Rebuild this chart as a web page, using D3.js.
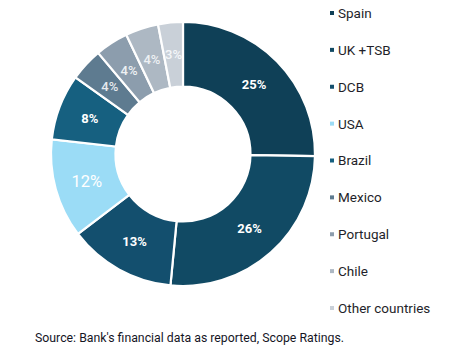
<!DOCTYPE html>
<html><head><meta charset="utf-8">
<script src="https://cdn.jsdelivr.net/npm/d3@7"></script>
<style>body{margin:0;background:#fff}svg{display:block}text{font-family:Roboto,"Noto Sans",sans-serif}</style>
</head><body>
<svg id="c" width="450" height="357"></svg>
<script>
const categories = ["Spain","UK +TSB","DCB","USA","Brazil","Mexico","Portugal","Chile","Other countries"];
const values = [25,26,13,12,8,4,4,4,3];
const colors = ["#0f4057","#114a64","#134f6e","#9bdcf6","#166080","#5e7b90","#8c9dad","#adb8c3","#c9d0d8"];
const labelColors = ["#ffffff","#ffffff","#ffffff","#ffffff","#ffffff","#e6eaee","#eef1f4","#eef1f4","#f4f6f8"];
const source = "Source: Bank's financial data as reported, Scope Ratings.";

const svg = d3.select("#c");
const cx = 183, cy = 154, R = 132, r = 67.5;
const pie = d3.pie().sort(null).value(d => d)(values);
const arc = d3.arc().innerRadius(r).outerRadius(R);
const g = svg.append("g").attr("transform", `translate(${cx},${cy})`);
g.selectAll("path").data(pie).join("path")
  .attr("d", arc).attr("fill", (d,i) => colors[i])
  .attr("stroke", "#fff").attr("stroke-width", 2.2);
g.selectAll("text").data(pie).join("text")
  .attr("transform", d => `translate(${arc.centroid(d)})`)
  .attr("text-anchor", "middle").attr("dy", "0.36em")
  .attr("fill", (d,i) => labelColors[i])
  .attr("font-size", (d,i) => i === 3 ? 16.5 : 13)
  .attr("font-weight", (d,i) => i === 3 ? 400 : (i >= 5 ? 500 : 700))
  .text(d => d.data + "%");

const leg = svg.append("g");
const ly = d3.scalePoint().domain(categories).range([13, 308]);
const items = leg.selectAll("g").data(categories).join("g")
  .attr("transform", d => `translate(330,${ly(d)})`);
items.append("rect").attr("x", 0).attr("y", -2).attr("width", 4).attr("height", 4)
  .attr("fill", (d,i) => colors[i]);
items.append("text").attr("x", 8).attr("dy", "0.36em")
  .attr("font-size", 13.5).attr("fill", "#1f1f2a").text(d => d);

svg.append("text").attr("x", 35).attr("y", 338).attr("dy", "0.36em")
  .attr("font-size", 12.3).attr("fill", "#15151f").text(source);
</script>
</body></html>
